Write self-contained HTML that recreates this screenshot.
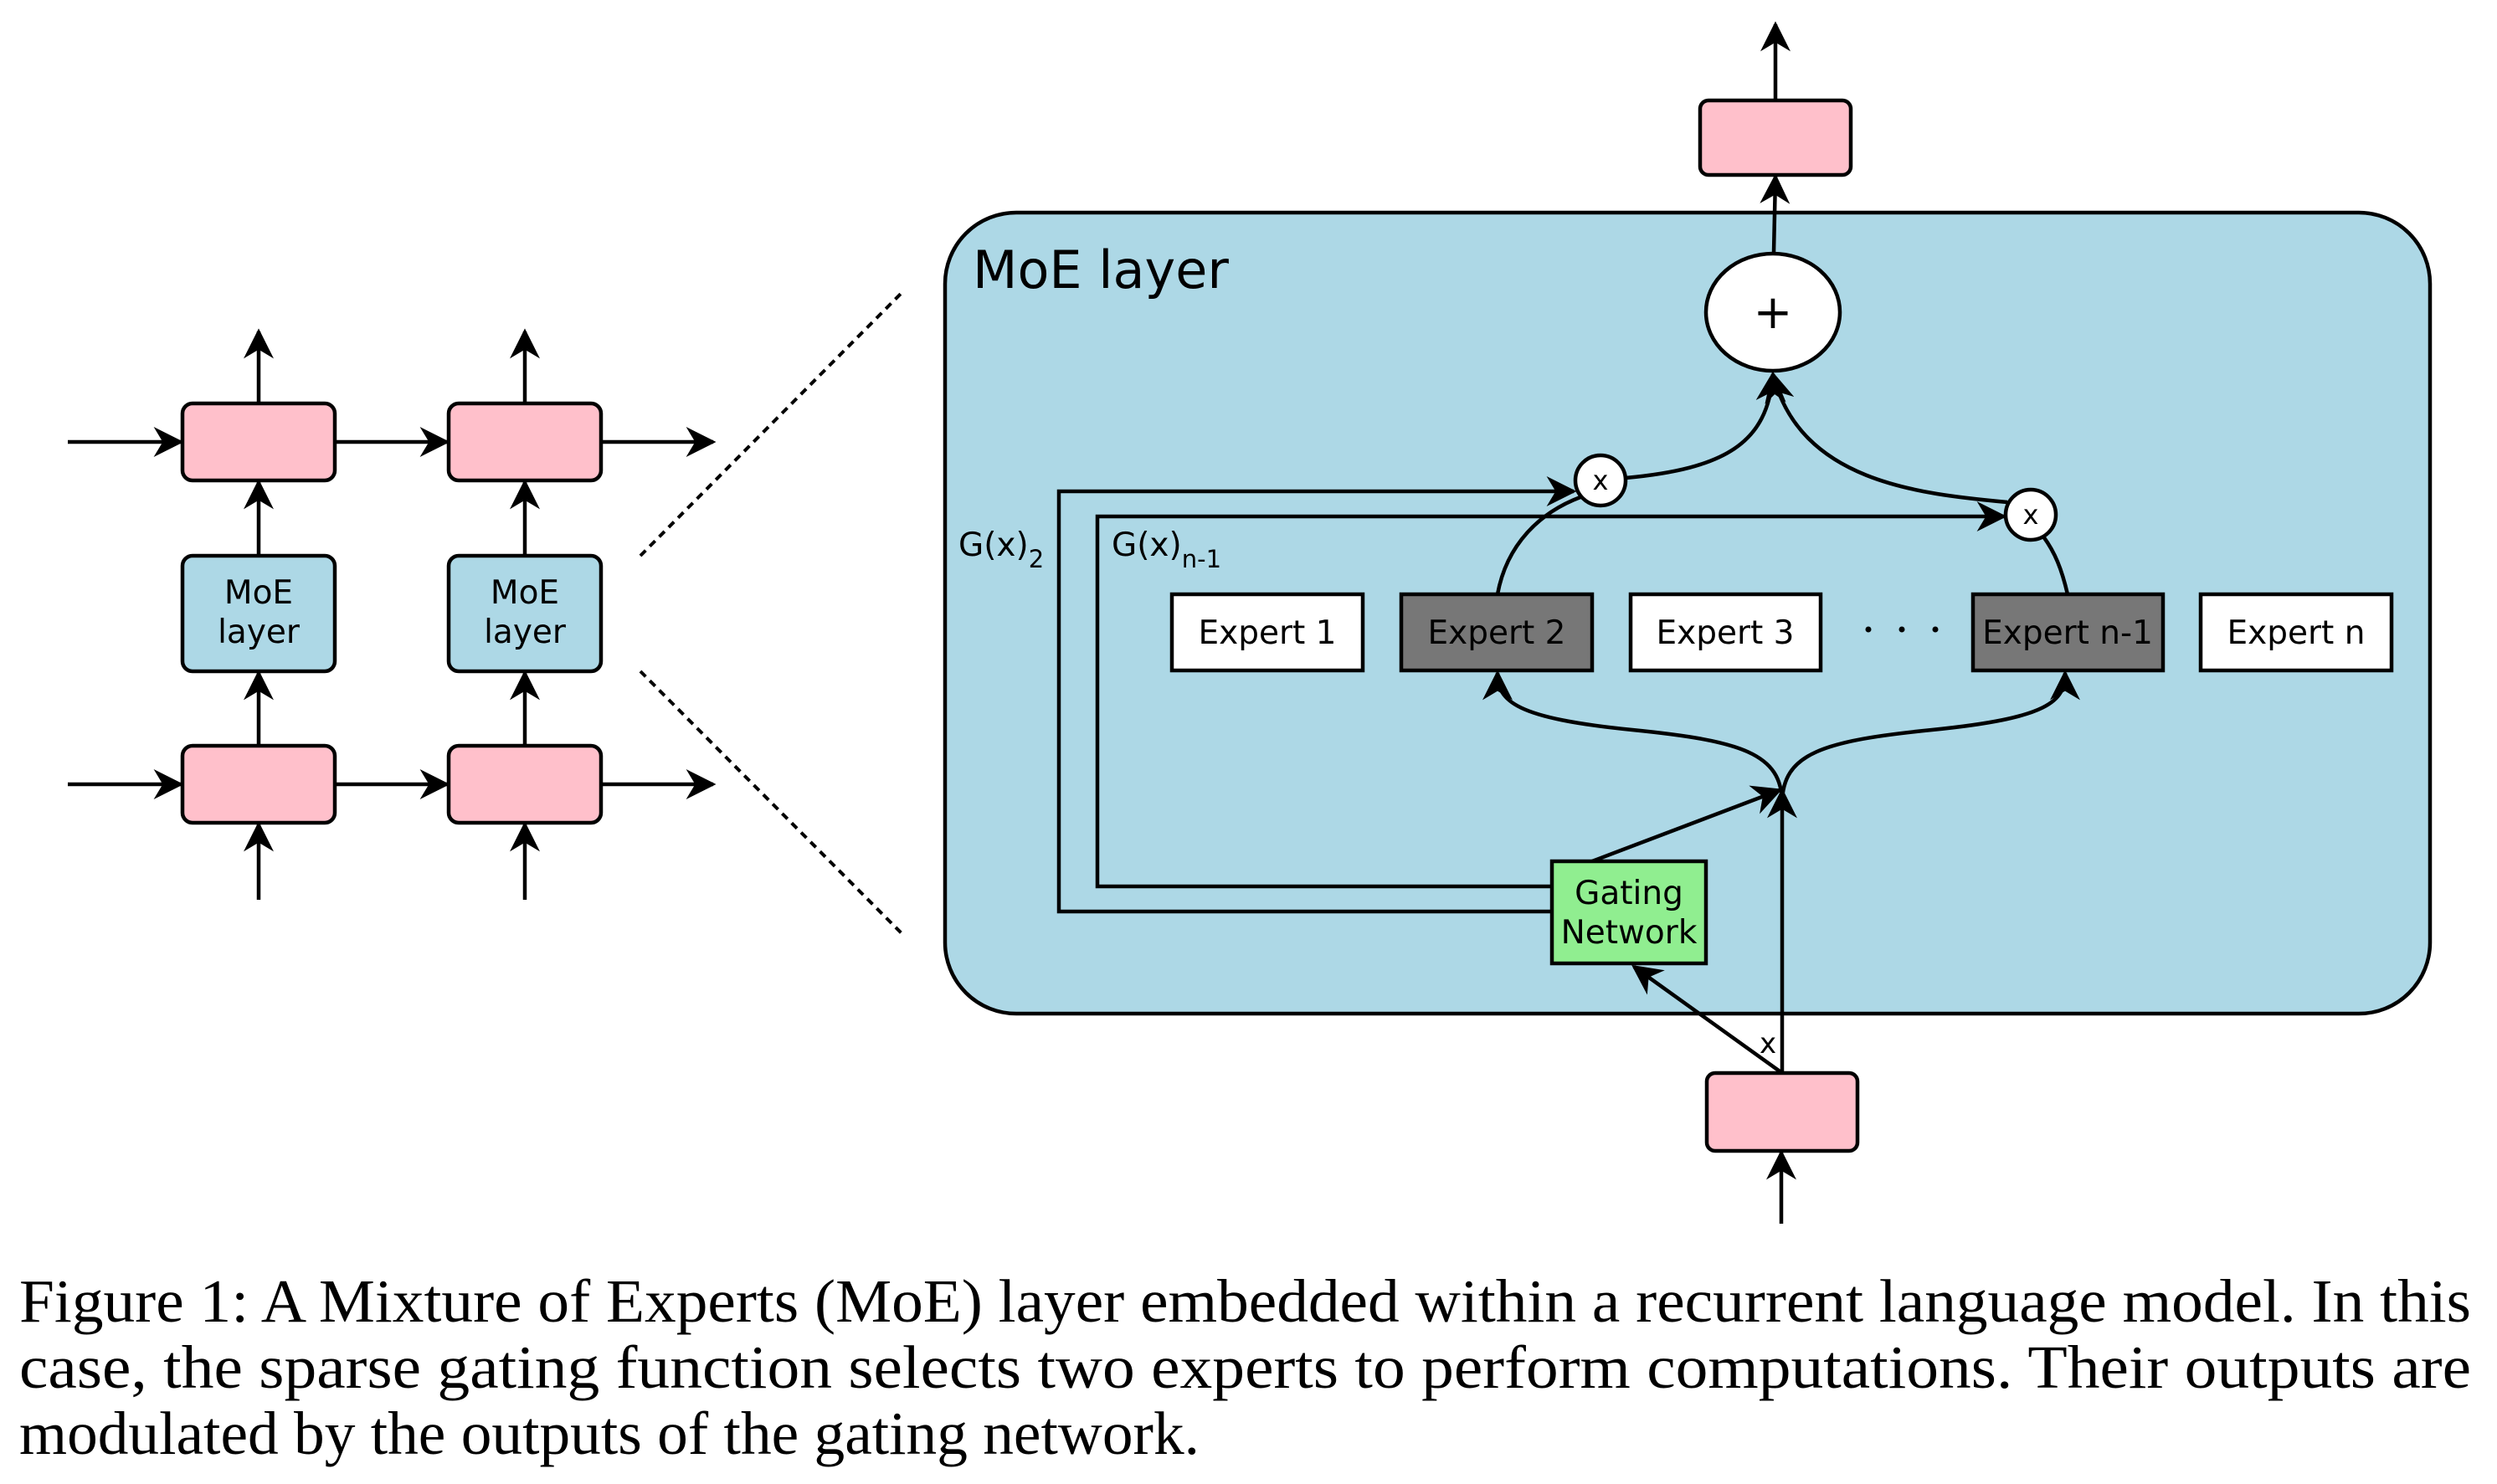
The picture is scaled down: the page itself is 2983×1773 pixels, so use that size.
<!DOCTYPE html>
<html><head><meta charset="utf-8"><style>
html,body{margin:0;padding:0;background:#fff;}
svg{display:block;}
.d{font-family:"DejaVu Sans","Liberation Sans",sans-serif;fill:#000;}
.c{font-family:"Liberation Serif",serif;font-size:73px;fill:#000;}
</style></head><body>
<svg width="2983" height="1773" viewBox="0 0 2983 1773" xmlns="http://www.w3.org/2000/svg">
<defs>
<marker id="a" viewBox="0 0 10 10" refX="9" refY="5" markerWidth="8" markerHeight="8" orient="auto" markerUnits="strokeWidth">
<path d="M0,0 L10,5 L0,10 L3,5 z" fill="#000"/></marker>
</defs>
<g stroke="#000" stroke-width="4.5" fill="none">
<line x1="81" y1="528" x2="216" y2="528" marker-end="url(#a)"/>
<line x1="400" y1="528" x2="534" y2="528" marker-end="url(#a)"/>
<line x1="718" y1="528" x2="852" y2="528" marker-end="url(#a)"/>
<line x1="81" y1="937" x2="216" y2="937" marker-end="url(#a)"/>
<line x1="400" y1="937" x2="534" y2="937" marker-end="url(#a)"/>
<line x1="718" y1="937" x2="852" y2="937" marker-end="url(#a)"/>
<line x1="309" y1="482" x2="309" y2="396" marker-end="url(#a)"/>
<line x1="627" y1="482" x2="627" y2="396" marker-end="url(#a)"/>
<line x1="309" y1="664" x2="309" y2="576" marker-end="url(#a)"/>
<line x1="627" y1="664" x2="627" y2="576" marker-end="url(#a)"/>
<line x1="309" y1="891" x2="309" y2="804" marker-end="url(#a)"/>
<line x1="627" y1="891" x2="627" y2="804" marker-end="url(#a)"/>
<line x1="309" y1="1075" x2="309" y2="985" marker-end="url(#a)"/>
<line x1="627" y1="1075" x2="627" y2="985" marker-end="url(#a)"/>
</g>
<g stroke="#000" stroke-width="4.5">
<rect x="218" y="482" width="182" height="92" rx="12" fill="#ffc0cb"/>
<rect x="536" y="482" width="182" height="92" rx="12" fill="#ffc0cb"/>
<rect x="218" y="664" width="182" height="138" rx="12" fill="#add8e6"/>
<rect x="536" y="664" width="182" height="138" rx="12" fill="#add8e6"/>
<rect x="218" y="891" width="182" height="92" rx="12" fill="#ffc0cb"/>
<rect x="536" y="891" width="182" height="92" rx="12" fill="#ffc0cb"/>
</g>
<g class="d" font-size="39" text-anchor="middle">
<text x="309" y="721">MoE</text><text x="309" y="768">layer</text>
<text x="627" y="721">MoE</text><text x="627" y="768">layer</text>
</g>
<g stroke="#000" stroke-width="4" stroke-dasharray="9,7">
<line x1="765" y1="664" x2="1079" y2="348"/>
<line x1="765" y1="802" x2="1079" y2="1117"/>
</g>
<rect x="1129" y="254" width="1774" height="957" rx="85" fill="#add8e6" stroke="#000" stroke-width="4.5"/>
<text class="d" x="1162" y="344" font-size="62">MoE layer</text>
<g stroke="#000" stroke-width="4.5" fill="none">
<line x1="2121" y1="120" x2="2121" y2="29" marker-end="url(#a)"/>
<line x1="2119" y1="302" x2="2121" y2="211" marker-end="url(#a)"/>
<line x1="2128" y1="1462" x2="2128" y2="1377" marker-end="url(#a)"/>
<line x1="2129" y1="1282" x2="2129" y2="945" marker-end="url(#a)"/>
<line x1="2129" y1="1282" x2="1952" y2="1155" marker-end="url(#a)"/>
<line x1="1902" y1="1029" x2="2126" y2="944" marker-end="url(#a)"/>
<path d="M2129,960 C2129,900 2080,885 1950,872 C1810,858 1789,838 1789,804" marker-end="url(#a)"/>
<path d="M2129,960 C2129,900 2178,885 2308,872 C2448,858 2467,838 2467,804" marker-end="url(#a)"/>
<path d="M1942,571 C2060,560 2112,530 2118,447" marker-end="url(#a)"/>
<path d="M2398,600 C2290,590 2150,575 2118,447" marker-end="url(#a)"/>
<path d="M1789,710 C1800,650 1840,612 1888,594"/>
<path d="M2470,710 C2463,680 2455,660 2441,641"/>
<polyline points="1854,1089 1265,1089 1265,587 1880,587" marker-end="url(#a)"/>
<polyline points="1854,1059 1311,1059 1311,617 2394,617" marker-end="url(#a)"/>
</g>
<g stroke="#000" stroke-width="4.5">
<ellipse cx="2118" cy="373" rx="80" ry="70" fill="#fff"/>
<circle cx="1912" cy="574" r="30" fill="#fff"/>
<circle cx="2426" cy="615" r="30" fill="#fff"/>
<rect x="2031" y="120" width="180" height="89" rx="10" fill="#ffc0cb"/>
<rect x="2039" y="1282" width="180" height="93" rx="10" fill="#ffc0cb"/>
<rect x="1400" y="710" width="228" height="91" fill="#fff"/>
<rect x="1674" y="710" width="228" height="91" fill="#777"/>
<rect x="1948" y="710" width="227" height="91" fill="#fff"/>
<rect x="2357" y="710" width="227" height="91" fill="#777"/>
<rect x="2629" y="710" width="228" height="91" fill="#fff"/>
<rect x="1854" y="1029" width="184" height="122" fill="#90ee90"/>
</g>
<g class="d" text-anchor="middle">
<text x="2118" y="392" font-size="56">+</text>
<text x="1912" y="585" font-size="32">x</text>
<text x="2426" y="626" font-size="32">x</text>
<text x="1514" y="769" font-size="39">Expert 1</text>
<text x="1788" y="769" font-size="39">Expert 2</text>
<text x="2061" y="769" font-size="39">Expert 3</text>
<text x="2470" y="769" font-size="39">Expert n-1</text>
<text x="2743" y="769" font-size="39">Expert n</text>
<text x="1946" y="1080" font-size="39">Gating</text>
<text x="1946" y="1127" font-size="39">Network</text>
<text x="2112" y="1258" font-size="34">x</text>
</g>
<g fill="#000"><circle cx="2232" cy="752" r="3.5"/><circle cx="2272" cy="752" r="3.5"/><circle cx="2312" cy="752" r="3.5"/></g>
<text class="d" x="1145" y="664" font-size="39">G(x)<tspan font-size="29" dy="14">2</tspan></text>
<text class="d" x="1328" y="664" font-size="39">G(x)<tspan font-size="29" dy="14">n-1</tspan></text>
<text class="c" x="23" y="1579" textLength="2929" lengthAdjust="spacingAndGlyphs">Figure 1: A Mixture of Experts (MoE) layer embedded within a recurrent language model. In this</text>
<text class="c" x="23" y="1658" textLength="2929" lengthAdjust="spacingAndGlyphs">case, the sparse gating function selects two experts to perform computations.  Their outputs are</text>
<text class="c" x="23" y="1737" textLength="1410" lengthAdjust="spacingAndGlyphs">modulated by the outputs of the gating network.</text>
</svg>
</body></html>
